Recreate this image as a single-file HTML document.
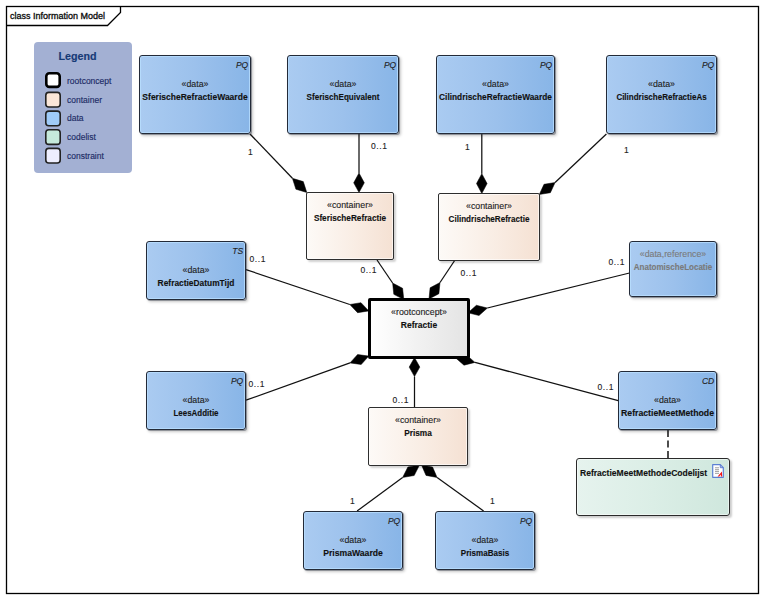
<!DOCTYPE html>
<html><head><meta charset="utf-8">
<style>
*{margin:0;padding:0;box-sizing:border-box}
html,body{width:764px;height:599px;background:#fff;overflow:hidden;font-family:"Liberation Sans",sans-serif;color:#111}
.a{position:absolute}
.frame{left:6px;top:6px;width:753px;height:588px;border:1px solid #000}
.hdr{left:10px;top:10.5px;font-size:9px;color:#0a0a0a;line-height:11px;-webkit-text-stroke:0.3px #0a0a0a}
.legend{left:34px;top:42px;width:98px;height:131px;background:#a3b0d3;border-radius:4px}
.lt{left:58.5px;top:50px;font-size:10.7px;font-weight:bold;color:#173a76;line-height:12px;-webkit-text-stroke:0.15px #173a76}
.sw{left:45px;width:17px;height:17px;border:2px solid #1a1a1a;border-radius:3px}
.li{left:67px;font-size:8.5px;color:#1d2c66;line-height:10px;-webkit-text-stroke:0.15px #1d2c66}
.box{border:1px solid #232a38;border-radius:3px;box-shadow:inset 0 0 0 1px rgba(185,222,255,0.8),1px 1px 0 0 rgba(50,58,72,0.4),2px 2px 3px rgba(0,0,0,0.22)}
.data{background:linear-gradient(90deg,#aacbf1 0%,#9cc1ec 50%,#88b5e7 100%)}
.ref{background:linear-gradient(90deg,#aacbf1 0%,#9cc1ec 50%,#88b5e7 100%)}
.cont{background:linear-gradient(90deg,#fdfaf7 0%,#f9ede4 55%,#f5e1d3 100%);border-width:1px;border-color:#2e2e2e;border-radius:2px;box-shadow:inset 0 0 0 1px rgba(255,255,255,0.6),2px 2px 2px rgba(0,0,0,0.18)}
.root{background:linear-gradient(90deg,#ffffff 0%,#f1f1f1 50%,#e4e4e4 100%);border:3px solid #000;border-radius:2px;box-shadow:none}
.code{background:linear-gradient(90deg,#e6f3ee 0%,#dbeee6 50%,#cfe7dd 100%);border-width:1.5px;border-color:#2a2a2a;box-shadow:inset 0 0 0 1px rgba(255,255,255,0.5),2px 2px 2px rgba(0,0,0,0.2)}
.t{position:absolute;white-space:nowrap;font-size:8.5px;line-height:10px;-webkit-text-stroke:0.12px currentColor}
.c{text-align:center}
.s{font-size:8.8px}
.b{font-weight:bold}
.i{font-style:italic}
svg{position:absolute;left:0;top:0}
</style></head><body>
<svg width="764" height="599"><rect x="6.5" y="6.5" width="752" height="587" fill="none" stroke="#000" stroke-width="1.3"/><path d="M6.5 25.5 H107.5 L120.5 12.5 V6.5" fill="none" stroke="#000" stroke-width="1.3"/></svg>
<div class="a hdr">class Information Model</div>
<div class="a legend"></div><div class="a lt">Legend</div>
<svg width="764" height="599"><rect x="46.30" y="73.30" width="13.40" height="13.60" rx="3" fill="#fff" stroke="#000" stroke-width="2.6"/><rect x="45.80" y="92.40" width="14.40" height="14.60" rx="3" fill="#fae6d8" stroke="#222" stroke-width="1.6"/><rect x="45.80" y="111.10" width="14.40" height="14.60" rx="3" fill="#9fcbf8" stroke="#222" stroke-width="1.6"/><rect x="45.80" y="129.80" width="14.40" height="14.60" rx="3" fill="#c6eadb" stroke="#222" stroke-width="1.6"/><rect x="45.80" y="148.40" width="14.40" height="14.60" rx="3" fill="#eeeefe" stroke="#222" stroke-width="1.6"/></svg>
<div class="a li" style="top:76px">rootconcept</div>
<div class="a li" style="top:95px">container</div>
<div class="a li" style="top:113px">data</div>
<div class="a li" style="top:132px">codelist</div>
<div class="a li" style="top:150.5px">constraint</div>
<svg width="764" height="599">
<g stroke="#111" stroke-width="1.25" fill="none">
<line x1="250.0" y1="134.0" x2="292.4" y2="178.3"/>
<line x1="359.0" y1="134.0" x2="359.0" y2="173.0"/>
<line x1="481.8" y1="134.0" x2="481.8" y2="173.7"/>
<line x1="606.4" y1="134.0" x2="555.1" y2="182.5"/>
<line x1="377.0" y1="260.0" x2="392.6" y2="283.0"/>
<line x1="455.0" y1="260.0" x2="440.0" y2="282.5"/>
<line x1="246.0" y1="269.6" x2="349.8" y2="304.5"/>
<line x1="629.5" y1="273.0" x2="487.4" y2="308.0"/>
<line x1="246.0" y1="400.2" x2="350.0" y2="362.9"/>
<line x1="618.2" y1="400.6" x2="475.0" y2="362.4"/>
<line x1="414.5" y1="407.0" x2="414.5" y2="376.6"/>
<line x1="357.1" y1="511.0" x2="402.6" y2="477.5"/>
<line x1="483.6" y1="511.0" x2="437.1" y2="477.5"/>
<line x1="668" y1="430" x2="668" y2="458" stroke="#3a3a3a" stroke-dasharray="7,3.5" stroke-width="1.8"/>
</g>
<g fill="#000" stroke="#000" stroke-width="0.5">
<polygon points="306.8,192.5 303.3,181.6 292.4,178.3 295.9,189.2"/>
<polygon points="359.0,192.5 364.3,182.8 359.0,173.0 353.7,182.8"/>
<polygon points="481.8,193.5 487.1,183.6 481.8,173.7 476.5,183.6"/>
<polygon points="539.3,194.5 550.4,192.7 555.1,182.5 544.0,184.3"/>
<polygon points="403.8,299.6 402.6,288.3 392.6,283.0 393.8,294.3"/>
<polygon points="429.0,299.0 438.9,293.7 440.0,282.5 430.1,287.8"/>
<polygon points="368.8,310.9 361.0,302.7 349.8,304.5 357.6,312.7"/>
<polygon points="468.0,312.8 479.0,315.5 487.4,308.0 476.4,305.3"/>
<polygon points="368.8,356.1 357.6,354.5 350.0,362.9 361.2,364.5"/>
<polygon points="455.4,357.7 464.0,365.2 475.0,362.4 466.4,354.9"/>
<polygon points="414.5,357.5 409.2,367.1 414.5,376.6 419.8,367.1"/>
<polygon points="419.5,465.0 407.9,467.0 402.6,477.5 414.2,475.5"/>
<polygon points="421.5,465.0 426.0,475.4 437.1,477.5 432.6,467.1"/>
</g>
</svg>
<div class="a box data" style="left:139px;top:55px;width:112px;height:79px"></div>
<div class="t i" style="left:139px;top:60px;width:109.2px;text-align:right;color:#222">PQ</div>
<div class="t c s" style="left:139px;top:79px;width:112px;color:#222">«data»</div>
<div class="t c b" style="left:139px;top:92px;width:112px;transform:scaleX(1.002)">SferischeRefractieWaarde</div>
<div class="a box data" style="left:287px;top:55px;width:112px;height:79px"></div>
<div class="t i" style="left:287px;top:60px;width:109.2px;text-align:right;color:#222">PQ</div>
<div class="t c s" style="left:287px;top:79px;width:112px;color:#222">«data»</div>
<div class="t c b" style="left:287px;top:92px;width:112px;transform:scaleX(0.951)">SferischEquivalent</div>
<div class="a box data" style="left:436px;top:55px;width:119px;height:79px"></div>
<div class="t i" style="left:436px;top:60px;width:116.2px;text-align:right;color:#222">PQ</div>
<div class="t c s" style="left:436px;top:79px;width:119px;color:#222">«data»</div>
<div class="t c b" style="left:436px;top:92px;width:119px;transform:scaleX(0.977)">CilindrischeRefractieWaarde</div>
<div class="a box data" style="left:606px;top:55px;width:111px;height:79px"></div>
<div class="t i" style="left:606px;top:60px;width:108.2px;text-align:right;color:#222">PQ</div>
<div class="t c s" style="left:606px;top:79px;width:111px;color:#222">«data»</div>
<div class="t c b" style="left:606px;top:92px;width:111px;transform:scaleX(0.941)">CilindrischeRefractieAs</div>
<div class="a box cont" style="left:306px;top:192px;width:88px;height:68px"></div>
<div class="t c s" style="left:306px;top:200px;width:88px;color:#222">«container»</div>
<div class="t c b" style="left:306px;top:213px;width:88px;color:#111;transform:scaleX(0.967)">SferischeRefractie</div>
<div class="a box cont" style="left:438px;top:193px;width:102px;height:68px"></div>
<div class="t c s" style="left:438px;top:201px;width:102px;color:#222">«container»</div>
<div class="t c b" style="left:438px;top:214px;width:102px;color:#111;transform:scaleX(0.950)">CilindrischeRefractie</div>
<div class="a box data" style="left:146px;top:241px;width:100px;height:59px"></div>
<div class="t i" style="left:146px;top:246px;width:97.2px;text-align:right;color:#222">TS</div>
<div class="t c s" style="left:146px;top:265px;width:100px;color:#222">«data»</div>
<div class="t c b" style="left:146px;top:278px;width:100px;transform:scaleX(0.987)">RefractieDatumTijd</div>
<div class="a box ref" style="left:629px;top:241px;width:88px;height:56px"></div>
<div class="t c s" style="left:629px;top:249px;width:88px;color:#7a7a7a">«data,reference»</div>
<div class="t c b" style="left:629px;top:262px;width:88px;color:#7a7a7a;transform:scaleX(0.944)">AnatomischeLocatie</div>
<div class="a box root" style="left:368px;top:298px;width:102px;height:61px"></div>
<div class="t c s" style="left:368px;top:307px;width:102px;color:#222">«rootconcept»</div>
<div class="t c b" style="left:368px;top:320px;width:102px;color:#111;transform:scaleX(1.001)">Refractie</div>
<div class="a box data" style="left:146px;top:371px;width:100px;height:59px"></div>
<div class="t i" style="left:146px;top:376px;width:97.2px;text-align:right;color:#222">PQ</div>
<div class="t c s" style="left:146px;top:395px;width:100px;color:#222">«data»</div>
<div class="t c b" style="left:146px;top:408px;width:100px;transform:scaleX(0.936)">LeesAdditie</div>
<div class="a box data" style="left:618px;top:371px;width:99px;height:59px"></div>
<div class="t i" style="left:618px;top:376px;width:96.2px;text-align:right;color:#222">CD</div>
<div class="t c s" style="left:618px;top:395px;width:99px;color:#222">«data»</div>
<div class="t c b" style="left:618px;top:408px;width:99px;transform:scaleX(1.026)">RefractieMeetMethode</div>
<div class="a box code" style="left:576px;top:458px;width:154px;height:58px"></div>
<div class="t b" style="left:580px;top:468px;transform-origin:0 0;transform:scaleX(1.005)">RefractieMeetMethodeCodelijst</div>
<div class="a box cont" style="left:368px;top:407px;width:100px;height:59px"></div>
<div class="t c s" style="left:368px;top:415px;width:100px;color:#222">«container»</div>
<div class="t c b" style="left:368px;top:428px;width:100px;color:#111;transform:scaleX(0.977)">Prisma</div>
<div class="a box data" style="left:303px;top:511px;width:100px;height:59px"></div>
<div class="t i" style="left:303px;top:516px;width:97.2px;text-align:right;color:#222">PQ</div>
<div class="t c s" style="left:303px;top:535px;width:100px;color:#222">«data»</div>
<div class="t c b" style="left:303px;top:548px;width:100px;transform:scaleX(1.016)">PrismaWaarde</div>
<div class="a box data" style="left:435px;top:511px;width:100px;height:59px"></div>
<div class="t i" style="left:435px;top:516px;width:97.2px;text-align:right;color:#222">PQ</div>
<div class="t c s" style="left:435px;top:535px;width:100px;color:#222">«data»</div>
<div class="t c b" style="left:435px;top:548px;width:100px;transform:scaleX(0.945)">PrismaBasis</div>
<div class="t" style="left:248px;top:147px;color:#222;letter-spacing:0">1</div>
<div class="t" style="left:371px;top:141px;color:#222;letter-spacing:0.6px">0..1</div>
<div class="t" style="left:465px;top:142px;color:#222;letter-spacing:0">1</div>
<div class="t" style="left:624px;top:145px;color:#222;letter-spacing:0">1</div>
<div class="t" style="left:249.5px;top:254px;color:#222;letter-spacing:0.6px">0..1</div>
<div class="t" style="left:360.5px;top:265px;color:#222;letter-spacing:0.6px">0..1</div>
<div class="t" style="left:460.5px;top:268px;color:#222;letter-spacing:0.6px">0..1</div>
<div class="t" style="left:608.5px;top:257px;color:#222;letter-spacing:0.6px">0..1</div>
<div class="t" style="left:248.5px;top:379px;color:#222;letter-spacing:0.6px">0..1</div>
<div class="t" style="left:597.5px;top:382px;color:#222;letter-spacing:0.6px">0..1</div>
<div class="t" style="left:392.5px;top:395px;color:#222;letter-spacing:0.6px">0..1</div>
<div class="t" style="left:350px;top:496px;color:#222;letter-spacing:0">1</div>
<div class="t" style="left:490px;top:496px;color:#222;letter-spacing:0">1</div>
<svg width="764" height="599"><g transform="translate(712,464)"><path d="M0.7 0.7 H8.3 L11.3 3.7 V13.3 H0.7 Z" fill="#fff" stroke="#5b7fd3" stroke-width="1.2" stroke-linejoin="round"/><path d="M8.3 0.7 V3.7 H11.3" fill="none" stroke="#5a7bd0" stroke-width="1"/><g fill="#a8a8a8"><rect x="3" y="3.2" width="4" height="1.1"/><rect x="3" y="5.1" width="4" height="1.1"/><rect x="3" y="6.9" width="4" height="1.1"/><rect x="3" y="8.8" width="4" height="1.1"/></g><path d="M5.6 12.4 L9.9 7.4 L10.2 12.4 L8.9 12.4 L8.8 10.6 L7.2 12.4 Z" fill="#f21515"/></g></svg>
</body></html>
